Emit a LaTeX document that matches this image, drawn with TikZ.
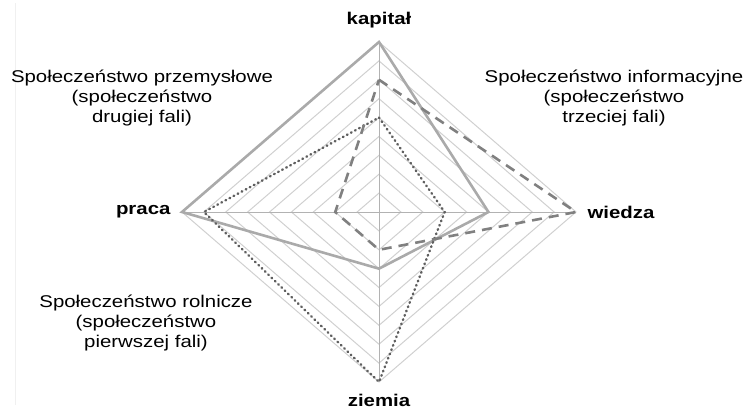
\documentclass[tikz,border=0pt]{standalone}
\usepackage{fontspec}
\setmainfont{Liberation Sans}[FakeStretch=1.2]
\definecolor{ringgray}{RGB}{208,208,208}
\definecolor{axisgray}{RGB}{178,178,178}
\definecolor{solidgray}{RGB}{170,170,170}
\definecolor{dashgray}{RGB}{128,128,128}
\definecolor{dotgray}{RGB}{95,95,95}
\tikzset{
	ring/.style={draw=ringgray, line width=1pt},
	axisline/.style={draw=axisgray, line width=1pt},
	industrial/.style={draw=solidgray, line width=2.6pt, line join=miter},
	informational/.style={draw=dashgray, line width=2.6pt, dash pattern=on 10pt off 7pt},
	agricultural/.style={draw=dotgray, line width=2.4pt, line cap=round, dash pattern=on 0.8pt off 3.8pt},
	axislabel/.style={font=\fontsize{17}{20}\selectfont\bfseries},
	wavelabel/.style={font=\fontsize{17}{20}\selectfont, align=center}}

\begin{document}
\begin{tikzpicture}[x=1pt,y=1pt,yscale=-1]
	\useasboundingbox (0,0) rectangle (748,410);
	%Straight Lines: left frame edge
	\draw [draw=gray!12, line width=0.8pt] (15,3) -- (15,405) ;

	%Shape: Diamond rings
	\draw [ring] (379,193.11) -- (400.89,212) -- (379,230.89) -- (357.11,212) -- cycle ;
	\draw [ring] (379,174.22) -- (422.78,212) -- (379,249.78) -- (335.22,212) -- cycle ;
	\draw [ring] (379,155.33) -- (444.67,212) -- (379,268.67) -- (313.33,212) -- cycle ;
	\draw [ring] (379,136.44) -- (466.56,212) -- (379,287.56) -- (291.44,212) -- cycle ;
	\draw [ring] (379,117.56) -- (488.44,212) -- (379,306.44) -- (269.56,212) -- cycle ;
	\draw [ring] (379,98.67) -- (510.33,212) -- (379,325.33) -- (247.67,212) -- cycle ;
	\draw [ring] (379,79.78) -- (532.22,212) -- (379,344.22) -- (225.78,212) -- cycle ;
	\draw [ring] (379,60.89) -- (554.11,212) -- (379,363.11) -- (203.89,212) -- cycle ;
	\draw [ring] (379,42) -- (576,212) -- (379,382) -- (182,212) -- cycle ;
	%Straight Lines: axes
	\draw [axisline] (379,42) -- (379,382) ;
	\draw [axisline] (182,212) -- (576,212) ;

	%Shape: Polygon - spoleczenstwo przemyslowe
	\draw [industrial] (379,42) -- (488.44,212) -- (379,268.67) -- (182,212) -- cycle ;
	%Shape: Polygon - spoleczenstwo rolnicze
	\draw [agricultural] (379,117.56) -- (444.67,212) -- (379,382) -- (203.89,212) -- cycle ;
	%Shape: Polygon - spoleczenstwo informacyjne
	\draw [informational] (379,79.78) -- (576,212) -- (379,249.78) -- (335.22,212) -- cycle ;

	% Text Node
	\draw (379,20) node [axislabel] (kapital) {kapitał};
	% Text Node
	\draw (584,212) node [axislabel, anchor=west] (wiedza) {wiedza};
	% Text Node
	\draw (379,400) node [axislabel] (ziemia) {ziemia};
	% Text Node
	\draw (174,212) node [axislabel, anchor=east] (praca) {praca};
	% Text Node
	\draw (142,98) node [wavelabel] (przemyslowe) {Społeczeństwo przemysłowe\\(społeczeństwo\\drugiej fali)};
	% Text Node
	\draw (614,98) node [wavelabel] (informacyjne) {Społeczeństwo informacyjne\\(społeczeństwo\\trzeciej fali)};
	% Text Node
	\draw (146,323) node [wavelabel] (rolnicze) {Społeczeństwo rolnicze\\(społeczeństwo\\pierwszej fali)};

\end{tikzpicture}
\end{document}
